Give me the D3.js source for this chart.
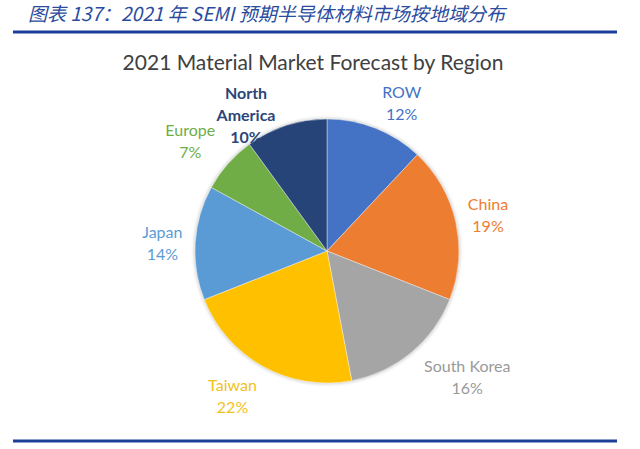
<!DOCTYPE html>
<html><head><meta charset="utf-8">
<script src="https://cdn.jsdelivr.net/npm/d3@7"></script>
<style>body{margin:0;background:#fff}svg{display:block}</style>
</head><body>
<svg id="c" width="640" height="449"></svg>
<script>
// ---- data ----
const categories = ["ROW", "China", "South Korea", "Taiwan", "Japan", "Europe", "North America"];
const shares = [12, 19, 16, 22, 14, 7, 10];
const labelNames = [["ROW"], ["China"], ["South Korea"], ["Taiwan"], ["Japan"], ["Europe"], ["North", "America"]];
const headerText = "图表 137：2021 年 SEMI 预期半导体材料市场按地域分布";
const chartTitle = "2021 Material Market Forecast by Region";

// ---- styles / layout ----
const sliceColors = ["#4472C4", "#ED7D31", "#A5A5A5", "#FFC000", "#5B9BD5", "#70AD47", "#264478"];
const labelColors = ["#4472C4", "#ED7D31", "#9a9a9a", "#F2C21B", "#5B9BD5", "#70AD47", "#2B4677"];
const labelNudge = [[14, 6], [0, 0], [35, -1], [-15, 1], [0, 3], [-13, 0], [-30, 21]];

const svg = d3.select("#c");
const W = 640;
const cx = 327, cy = 251, R = 132, labelR = 165, lineH = 22;

// header
svg.append("text")
  .attr("x", 28).attr("y", 21)
  .attr("font-family", "'Noto Sans CJK SC', sans-serif")
  .attr("font-style", "italic")
  .attr("font-size", 19)
  .attr("fill", "#2B4C9E")
  .attr("textLength", 477).attr("lengthAdjust", "spacingAndGlyphs")
  .text(headerText);

svg.append("rect").attr("x", 13).attr("y", 30.5).attr("width", 604).attr("height", 3).attr("fill", "#1B3F98");
svg.append("rect").attr("x", 13).attr("y", 439.5).attr("width", 604).attr("height", 3).attr("fill", "#1B3F98");

// chart title
svg.append("text")
  .attr("x", 313).attr("y", 70)
  .attr("text-anchor", "middle")
  .attr("font-family", "Lato, 'Open Sans', sans-serif")
  .attr("font-size", 21)
  .attr("fill", "#404040")
  .text(chartTitle);

const data = categories.map((c, i) => ({ name: c, value: shares[i], i }));
const pie = d3.pie().value(d => d.value).sort(null);
const arcs = pie(data);
const arc = d3.arc().innerRadius(0).outerRadius(R);
const labelArc = d3.arc().innerRadius(labelR).outerRadius(labelR);

const g = svg.append("g").attr("transform", `translate(${cx},${cy})`);

// soft halo
const defs = svg.append("defs");
const f = defs.append("filter").attr("id", "blur").attr("x", "-20%").attr("y", "-20%").attr("width", "140%").attr("height", "140%");
f.append("feGaussianBlur").attr("stdDeviation", 1.5);
g.append("circle").attr("r", R + 1.5).attr("fill", "#d8d8d8").attr("filter", "url(#blur)");

g.selectAll("path.slice").data(arcs).join("path")
  .attr("class", "slice")
  .attr("d", arc)
  .attr("fill", d => sliceColors[d.data.i])
  .attr("stroke", "#ffffff").attr("stroke-width", 0.4);

const lbl = g.selectAll("g.lbl").data(arcs).join("g")
  .attr("class", "lbl")
  .attr("transform", d => {
    const [x, y] = labelArc.centroid(d);
    const n = labelNudge[d.data.i];
    return `translate(${x + n[0]},${y + n[1]})`;
  });

lbl.each(function(d) {
  const lines = labelNames[d.data.i].concat([d.data.value + "%"]);
  const t = d3.select(this).append("text")
    .attr("text-anchor", "middle")
    .attr("font-family", "Lato, 'Open Sans', sans-serif")
    .attr("font-size", 16)
    .attr("fill", labelColors[d.data.i])
    .attr("font-weight", d.data.name === "North America" ? 700 : 400);
  const off = -(lines.length - 1) * lineH / 2;
  lines.forEach((s, k) => {
    t.append("tspan").attr("x", 0).attr("y", off + k * lineH).attr("dy", "0.35em").text(s);
  });
});
</script>
</body></html>
